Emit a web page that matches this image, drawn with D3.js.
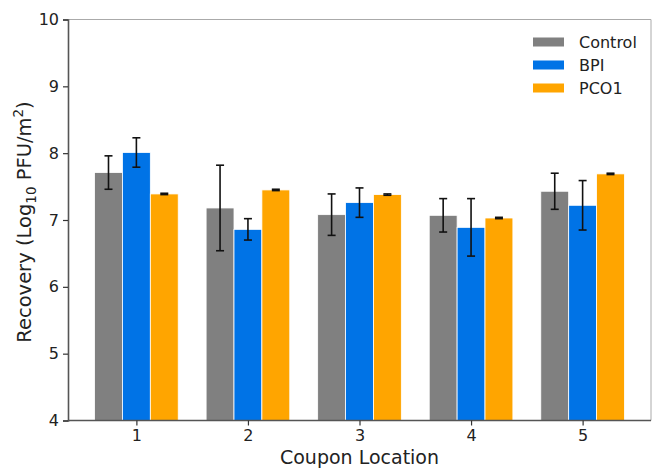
<!DOCTYPE html>
<html>
<head>
<meta charset="utf-8">
<script src="https://cdn.jsdelivr.net/npm/d3@7"></script>
<style>
  html, body { margin: 0; padding: 0; background: #fff; }
  svg { display: block; font-family: "DejaVu Sans", sans-serif; }
</style>
</head>
<body>
<svg id="chart" width="652" height="469"></svg>
<script>
// Recovery by coupon location for three treatments (mean ± error)
const locations = [1, 2, 3, 4, 5];
const seriesNames = ["Control", "BPI", "PCO1"];
const seriesColors = ["#808080", "#0073E6", "#FFA500"];
const controlMean = [7.71, 7.18, 7.08, 7.07, 7.43];
const controlErr  = [0.25, 0.64, 0.31, 0.25, 0.27];
const bpiMean     = [8.01, 6.86, 7.26, 6.89, 7.22];
const bpiErr      = [0.22, 0.16, 0.22, 0.43, 0.37];
const pco1Mean    = [7.39, 7.45, 7.38, 7.03, 7.69];
const pco1Err     = [0.01, 0.01, 0.01, 0.01, 0.01];
const yTicks = [4, 5, 6, 7, 8, 9, 10];

const means = [controlMean, bpiMean, pco1Mean];
const errs = [controlErr, bpiErr, pco1Err];

const svg = d3.select("#chart");
const plotLeft = 68, plotRight = 651, plotTop = 19.5, plotBottom = 420.5;

const x = d3.scaleLinear().domain([0.387, 5.613]).range([plotLeft, plotRight]);
const y = d3.scaleLinear().domain([4, 10]).range([plotBottom, plotTop]);
const barW = 0.25;

// bars
const rows = [];
seriesNames.forEach((name, s) => {
  locations.forEach((loc, i) => {
    rows.push({ s, loc, v: means[s][i], e: errs[s][i] });
  });
});

const g = svg.append("g");
g.selectAll("rect.bar").data(rows).enter().append("rect")
  .attr("class", "bar")
  .attr("x", d => x(d.loc + (d.s - 1) * barW - barW / 2))
  .attr("width", d => x(barW) - x(0))
  .attr("y", d => y(d.v))
  .attr("height", d => y(4) - y(d.v))
  .attr("fill", d => seriesColors[d.s])
  .attr("stroke", "#fff")
  .attr("stroke-width", 0.8);

// error bars
const eb = g.selectAll("g.err").data(rows).enter().append("g").attr("class", "err")
  .attr("stroke", "#111").attr("stroke-width", 1.6);
eb.append("line")
  .attr("x1", d => x(d.loc + (d.s - 1) * barW))
  .attr("x2", d => x(d.loc + (d.s - 1) * barW))
  .attr("y1", d => y(d.v + d.e))
  .attr("y2", d => y(d.v - d.e));
[1, -1].forEach(sign => {
  eb.append("line")
    .attr("x1", d => x(d.loc + (d.s - 1) * barW) - 4)
    .attr("x2", d => x(d.loc + (d.s - 1) * barW) + 4)
    .attr("y1", d => y(d.v + sign * d.e))
    .attr("y2", d => y(d.v + sign * d.e));
});

// frame: top and right light, left and bottom axes dark
svg.append("line").attr("x1", plotLeft).attr("x2", plotRight).attr("y1", plotTop).attr("y2", plotTop)
  .attr("stroke", "#aaa").attr("stroke-width", 1);
svg.append("line").attr("x1", plotRight).attr("x2", plotRight).attr("y1", plotTop).attr("y2", plotBottom)
  .attr("stroke", "#aaa").attr("stroke-width", 1);

const xAxis = d3.axisBottom(x).tickValues(locations).tickFormat(d3.format("d")).tickSize(5).tickPadding(4);
const xg = svg.append("g").attr("transform", `translate(0,${plotBottom})`).call(xAxis);
xg.select(".domain").attr("d", `M${plotLeft},0H${plotRight}`);

const yAxis = d3.axisLeft(y).tickValues(yTicks).tickFormat(d3.format("d")).tickSize(5).tickPadding(4);
const yg = svg.append("g").attr("transform", `translate(${plotLeft},0)`).call(yAxis);

[xg, yg].forEach(a => {
  a.select(".domain").attr("stroke", "#555").attr("stroke-width", 1.6);
  a.selectAll(".tick line").attr("stroke", "#333").attr("stroke-width", 1.2);
  a.selectAll(".tick text").attr("fill", "#222").style("font-size", "16px")
    .style("font-family", "'DejaVu Sans', sans-serif");
});

// axis titles
svg.append("text")
  .attr("x", (plotLeft + plotRight) / 2).attr("y", 464)
  .attr("text-anchor", "middle").attr("fill", "#222")
  .style("font-size", "19px")
  .text("Coupon Location");

const yl = svg.append("text")
  .attr("transform", `translate(31,${(plotTop + plotBottom) / 2 + 2}) rotate(-90)`)
  .attr("text-anchor", "middle").attr("fill", "#222")
  .style("font-size", "19.5px");
yl.append("tspan").text("Recovery (Log");
yl.append("tspan").attr("dy", 5).style("font-size", "13.5px").text("10");
yl.append("tspan").attr("dy", -5).text(" PFU/m");
yl.append("tspan").attr("dy", -8).style("font-size", "13.5px").text("2");
yl.append("tspan").attr("dy", 8).text(")");

// legend
const lg = svg.append("g").attr("transform", "translate(533,33)");
seriesNames.forEach((name, i) => {
  const row = lg.append("g").attr("transform", `translate(0,${i * 23})`);
  row.append("rect").attr("x", 0).attr("y", 4.5).attr("width", 31).attr("height", 9)
    .attr("fill", seriesColors[i]);
  row.append("text").attr("x", 46).attr("y", 15).attr("fill", "#222")
    .style("font-size", "16px").text(name);
});
</script>
</body>
</html>
